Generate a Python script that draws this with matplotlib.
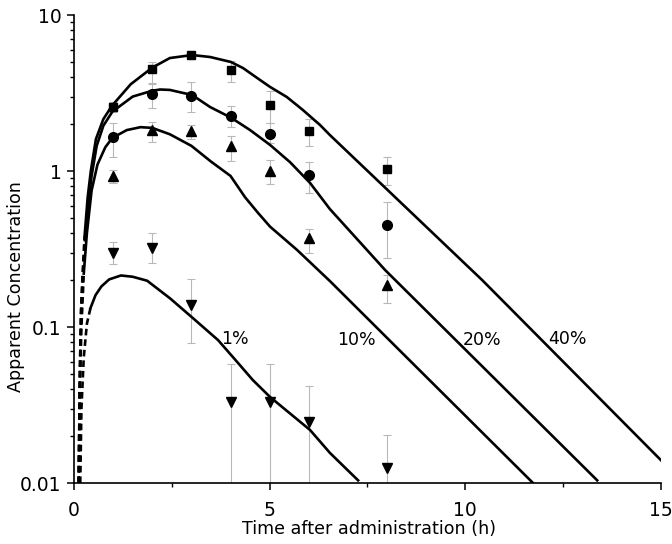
import numpy as np
import matplotlib
matplotlib.use('Agg')
import matplotlib.pyplot as plt
from matplotlib.ticker import FixedLocator, FuncFormatter, LogLocator, NullFormatter

plt.rcParams['font.family'] = ['DejaVu Sans']

# measured points (time in h)
t_obs = [1, 2, 3, 4, 5, 6, 8]

c40 = [2.57, 4.5, 5.55, 4.43, 2.65, 1.80, 1.03]
lo40 = [2.40, 3.66, 5.25, 3.72, 2.03, 1.45, 0.814]
hi40 = [2.75, 5.0, 5.85, 5.1, 3.26, 2.15, 1.23]

c20 = [1.65, 3.12, 3.03, 2.25, 1.73, 0.94, 0.45]
lo20 = [1.23, 2.53, 2.39, 1.91, 1.51, 0.723, 0.277]
hi20 = [2.03, 3.61, 3.72, 2.61, 2.03, 1.14, 0.633]

c10 = [0.93, 1.83, 1.80, 1.45, 1.0, 0.37, 0.186]
lo10 = [0.838, 1.53, 1.60, 1.16, 0.825, 0.298, 0.1425]
hi10 = [1.01, 2.06, 1.97, 1.68, 1.17, 0.425, 0.215]

c1 = [0.30, 0.32, 0.138, 0.033, 0.033, 0.0246, 0.0125]
lo1 = [0.253, 0.257, 0.079, 0.005, 0.005, 0.005, 0.005]
hi1 = [0.351, 0.40, 0.203, 0.0579, 0.0579, 0.0419, 0.0203]

# fitted curves
fit40_t = [0.12, 0.15, 0.18, 0.22, 0.27, 0.35, 0.43, 0.56, 0.75, 0.97, 1.45, 2.0, 2.45,
           3.02, 3.48, 4.01, 4.32, 4.68, 5.01, 5.44, 5.85, 6.29, 6.54, 10.43, 15.0]
fit40_c = [0.01, 0.05, 0.13, 0.22, 0.38, 0.68, 1.0, 1.6, 2.15, 2.62, 3.6, 4.6, 5.3,
           5.54, 5.38, 5.0, 4.57, 3.95, 3.46, 2.98, 2.46, 1.97, 1.70, 0.200, 0.0140]

fit20_t = [0.12, 0.15, 0.18, 0.22, 0.28, 0.36, 0.45, 0.58, 0.75, 0.98, 1.5, 2.0, 2.2,
           2.45, 3.02, 3.48, 4.01, 4.5, 5.01, 5.52, 6.03, 6.54, 7.95, 13.37]
fit20_c = [0.01, 0.05, 0.12, 0.2, 0.36, 0.6, 0.93, 1.45, 1.95, 2.4, 3.0, 3.27, 3.33,
           3.31, 3.07, 2.57, 2.2, 1.83, 1.47, 1.14, 0.84, 0.57, 0.232, 0.0104]

fit10_t = [0.12, 0.15, 0.19, 0.25, 0.33, 0.45, 0.6, 0.8, 0.98, 1.35, 1.7, 2.0, 2.45,
           3.0, 3.5, 4.0, 4.37, 4.7, 5.01, 5.7, 6.54, 11.73]
fit10_c = [0.01, 0.04, 0.1, 0.22, 0.4, 0.75, 1.1, 1.42, 1.63, 1.83, 1.91, 1.89, 1.72,
           1.45, 1.15, 0.93, 0.68, 0.54, 0.44, 0.312, 0.197, 0.01]

fit1_t = [0.16, 0.19, 0.25, 0.33, 0.42, 0.55, 0.7, 0.9, 1.2, 1.5, 1.87, 2.45, 3.04,
          3.68, 4.17, 4.57, 5.01, 6.03, 6.54, 7.26]
fit1_c = [0.01, 0.03, 0.064, 0.105, 0.132, 0.16, 0.182, 0.202, 0.214, 0.21, 0.198,
          0.153, 0.114, 0.0825, 0.0597, 0.0457, 0.0356, 0.0219, 0.0156, 0.0104]

labels = ['1%', '10%', '20%', '40%']
label_x = [4.11, 7.23, 10.43, 12.6]
label_y = [0.084, 0.083, 0.083, 0.084]

fig = plt.figure(figsize=(6.72, 5.44), dpi=100)
ax = fig.add_axes([0.1101, 0.1121, 0.8735, 0.8603])

# curves: early rise dashed, rest solid
for t, c, nd in [(fit40_t, fit40_c, 5), (fit20_t, fit20_c, 5),
                 (fit10_t, fit10_c, 4), (fit1_t, fit1_c, 5)]:
    ax.plot(t[:nd], c[:nd], color='black', lw=1.9, ls=(0, (2.5, 1.5)), zorder=3)
    ax.plot(t[nd - 1:], c[nd - 1:], color='black', lw=1.9, zorder=3)

# data with error bars
for c, lo, hi, mk, ms in [(c40, lo40, hi40, 's', 6), (c20, lo20, hi20, 'o', 7),
                          (c10, lo10, hi10, '^', 7.5), (c1, lo1, hi1, 'v', 7.5)]:
    c = np.array(c)
    yerr = [c - np.array(lo), np.array(hi) - c]
    ax.errorbar(t_obs, c, yerr=yerr, fmt='none', ecolor='#b8b8b8', elinewidth=0.8,
                capsize=3, capthick=0.8, zorder=2)
    ax.plot(t_obs, c, ls='none', marker=mk, ms=ms, color='black', mec='black', zorder=4)

for s, x, y in zip(labels, label_x, label_y):
    ax.text(x, y, s, fontsize=12.5, ha='center', va='center')

ax.set_yscale('log')
ax.set_xlim(0, 15)
ax.set_ylim(0.01, 10)
ax.xaxis.set_major_locator(FixedLocator([0, 5, 10, 15]))
ax.xaxis.set_minor_locator(FixedLocator([2.5, 7.5, 12.5]))
ax.yaxis.set_major_locator(FixedLocator([0.01, 0.1, 1, 10]))
ax.yaxis.set_minor_locator(LogLocator(base=10, subs=np.arange(2, 10)))
ax.yaxis.set_minor_formatter(NullFormatter())
ax.yaxis.set_major_formatter(FuncFormatter(lambda v, p: '{:g}'.format(v)))

for side in ['top', 'right']:
    ax.spines[side].set_visible(False)
for side in ['left', 'bottom']:
    ax.spines[side].set_linewidth(1.2)

ax.tick_params(which='major', direction='out', length=5, width=1.1, labelsize=13.5)
ax.tick_params(which='minor', direction='out', length=3, width=1.0)
ax.tick_params(axis='x', which='major', pad=8)
ax.tick_params(axis='y', which='major', pad=4)

ax.set_xlabel('Time after administration (h)', fontsize=12.6)
ax.set_ylabel('Apparent Concentration', fontsize=12.6)
ax.xaxis.set_label_coords(0.502, -0.078)
ax.yaxis.set_label_coords(-0.084, 0.42)

fig.savefig('out.png', dpi=100)
